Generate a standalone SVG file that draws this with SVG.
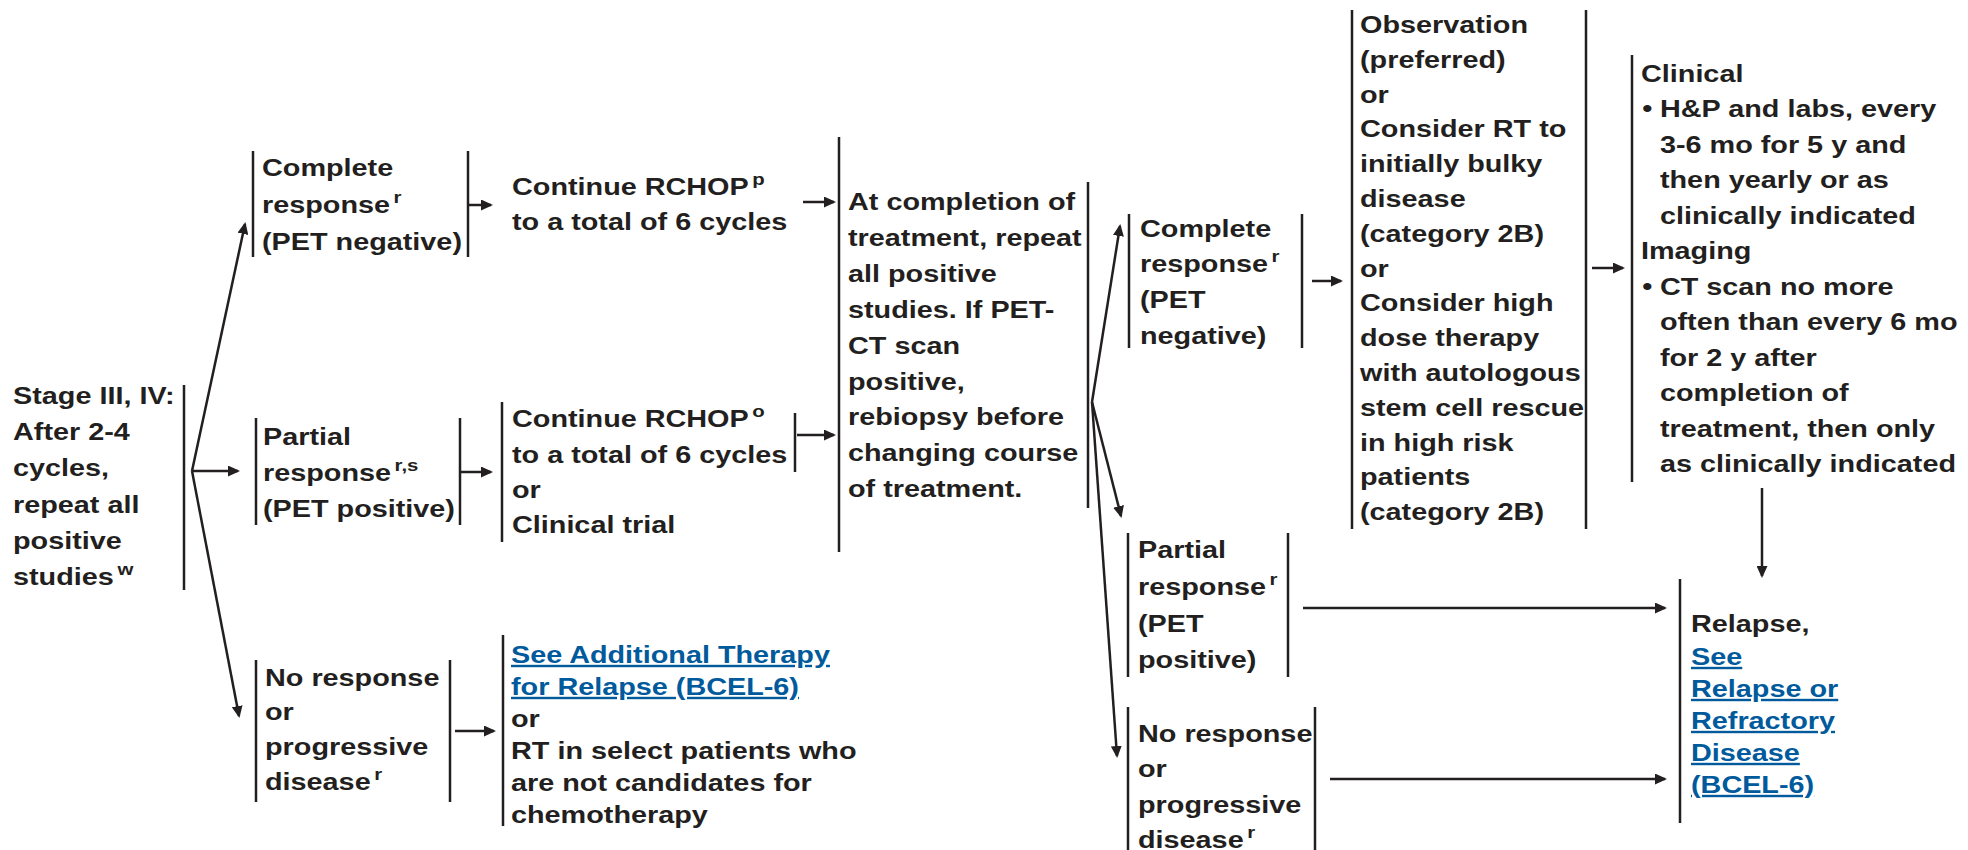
<svg xmlns="http://www.w3.org/2000/svg" width="1968" height="850" viewBox="0 0 1968 850">
  <style>
    .t { font-family: "Liberation Sans", Arial, Helvetica, sans-serif; font-weight: bold; font-size: 24px; fill: #231f20; }
    .lk { fill: #005a9c; text-decoration: underline; }
    .sup { font-size: 17px; }
    .bar { stroke: #231f20; stroke-width: 2.5; fill: none; }
    .arr { stroke: #231f20; stroke-width: 2.5; fill: none; marker-end: url(#ah); }
  </style>
  <defs>
    <marker id="ah" markerUnits="userSpaceOnUse" markerWidth="12" markerHeight="11" refX="10" refY="5.5" orient="auto">
      <path d="M0,0 L12,5.5 L0,11 z" fill="#231f20"/>
    </marker>
  </defs>
  <rect width="1968" height="850" fill="#ffffff"/>

  <!-- entry -->
  <g id="n-stage">
    <text class="t" transform="translate(13 0) scale(1.2 1)">
      <tspan x="0" y="404">Stage III, IV:</tspan>
      <tspan x="0" y="440.2">After 2-4</tspan>
      <tspan x="0" y="476.4">cycles,</tspan>
      <tspan x="0" y="512.6">repeat all</tspan>
      <tspan x="0" y="548.8">positive</tspan>
      <tspan x="0" y="585">studies<tspan class="sup" dx="3" dy="-10">w</tspan></tspan>
    </text>
    <line class="bar" x1="184" y1="385" x2="184" y2="590"/>
  </g>

  <!-- interim responses -->
  <g id="n-cr1">
    <line class="bar" x1="253" y1="151" x2="253" y2="257"/>
    <line class="bar" x1="468" y1="151" x2="468" y2="257"/>
    <text class="t" transform="translate(262 0) scale(1.2 1)">
      <tspan x="0" y="176">Complete</tspan>
      <tspan x="0" y="213">response<tspan class="sup" dx="3" dy="-10">r</tspan></tspan>
      <tspan x="0" y="250">(PET negative)</tspan>
    </text>
  </g>

  <g id="n-pr1">
    <line class="bar" x1="256" y1="418" x2="256" y2="525"/>
    <line class="bar" x1="460" y1="418" x2="460" y2="525"/>
    <text class="t" transform="translate(263 0) scale(1.2 1)">
      <tspan x="0" y="445">Partial</tspan>
      <tspan x="0" y="481">response<tspan class="sup" dx="3" dy="-10">r,s</tspan></tspan>
      <tspan x="0" y="517">(PET positive)</tspan>
    </text>
  </g>

  <g id="n-nr1">
    <line class="bar" x1="256" y1="660" x2="256" y2="802"/>
    <line class="bar" x1="450" y1="660" x2="450" y2="802"/>
    <text class="t" transform="translate(265 0) scale(1.2 1)">
      <tspan x="0" y="686">No response</tspan>
      <tspan x="0" y="720">or</tspan>
      <tspan x="0" y="755">progressive</tspan>
      <tspan x="0" y="790">disease<tspan class="sup" dx="3" dy="-10">r</tspan></tspan>
    </text>
  </g>

  <!-- continued treatment -->
  <g id="n-rchop1">
    <text class="t" transform="translate(512 0) scale(1.2 1)">
      <tspan x="0" y="195">Continue RCHOP<tspan class="sup" dx="3" dy="-10">p</tspan></tspan>
      <tspan x="0" y="230">to a total of 6 cycles</tspan>
    </text>
  </g>

  <g id="n-rchop2">
    <line class="bar" x1="502" y1="402" x2="502" y2="542"/>
    <line class="bar" x1="795" y1="413" x2="795" y2="472"/>
    <text class="t" transform="translate(512 0) scale(1.2 1)">
      <tspan x="0" y="427">Continue RCHOP<tspan class="sup" dx="3" dy="-10">o</tspan></tspan>
      <tspan x="0" y="463">to a total of 6 cycles</tspan>
      <tspan x="0" y="498">or</tspan>
      <tspan x="0" y="533">Clinical trial</tspan>
    </text>
  </g>

  <g id="n-addl">
    <line class="bar" x1="503" y1="635" x2="503" y2="826"/>
    <text class="t" transform="translate(511 0) scale(1.2 1)">
      <tspan class="lk" x="0" y="663">See Additional Therapy</tspan>
      <tspan class="lk" x="0" y="695">for Relapse (BCEL-6)</tspan>
      <tspan x="0" y="727">or</tspan>
      <tspan x="0" y="759">RT in select patients who</tspan>
      <tspan x="0" y="791">are not candidates for</tspan>
      <tspan x="0" y="823">chemotherapy</tspan>
    </text>
  </g>

  <!-- end of treatment restaging -->
  <g id="n-restage">
    <line class="bar" x1="839" y1="137" x2="839" y2="552"/>
    <line class="bar" x1="1088" y1="182" x2="1088" y2="508"/>
    <text class="t" transform="translate(848 0) scale(1.2 1)">
      <tspan x="0" y="210">At completion of</tspan>
      <tspan x="0" y="246">treatment, repeat</tspan>
      <tspan x="0" y="282">all positive</tspan>
      <tspan x="0" y="318">studies. If PET-</tspan>
      <tspan x="0" y="354">CT scan</tspan>
      <tspan x="0" y="390">positive,</tspan>
      <tspan x="0" y="425">rebiopsy before</tspan>
      <tspan x="0" y="461">changing course</tspan>
      <tspan x="0" y="497">of treatment.</tspan>
    </text>
  </g>

  <!-- final responses -->
  <g id="n-cr2">
    <line class="bar" x1="1129" y1="214" x2="1129" y2="348"/>
    <line class="bar" x1="1302" y1="214" x2="1302" y2="348"/>
    <text class="t" transform="translate(1140 0) scale(1.2 1)">
      <tspan x="0" y="237">Complete</tspan>
      <tspan x="0" y="272">response<tspan class="sup" dx="3" dy="-10">r</tspan></tspan>
      <tspan x="0" y="308">(PET</tspan>
      <tspan x="0" y="344">negative)</tspan>
    </text>
  </g>

  <g id="n-pr2">
    <line class="bar" x1="1128" y1="533" x2="1128" y2="677"/>
    <line class="bar" x1="1288" y1="533" x2="1288" y2="677"/>
    <text class="t" transform="translate(1138 0) scale(1.2 1)">
      <tspan x="0" y="558">Partial</tspan>
      <tspan x="0" y="595">response<tspan class="sup" dx="3" dy="-10">r</tspan></tspan>
      <tspan x="0" y="632">(PET</tspan>
      <tspan x="0" y="668">positive)</tspan>
    </text>
  </g>

  <g id="n-nr2">
    <line class="bar" x1="1128" y1="707" x2="1128" y2="850"/>
    <line class="bar" x1="1315" y1="707" x2="1315" y2="850"/>
    <text class="t" transform="translate(1138 0) scale(1.2 1)">
      <tspan x="0" y="742">No response</tspan>
      <tspan x="0" y="777">or</tspan>
      <tspan x="0" y="813">progressive</tspan>
      <tspan x="0" y="848">disease<tspan class="sup" dx="3" dy="-10">r</tspan></tspan>
    </text>
  </g>

  <!-- consolidation options -->
  <g id="n-obs">
    <line class="bar" x1="1352" y1="10" x2="1352" y2="529"/>
    <line class="bar" x1="1586" y1="10" x2="1586" y2="529"/>
    <text class="t" transform="translate(1360 0) scale(1.2 1)">
      <tspan x="0" y="33">Observation</tspan>
      <tspan x="0" y="67.8">(preferred)</tspan>
      <tspan x="0" y="102.6">or</tspan>
      <tspan x="0" y="137.4">Consider RT to</tspan>
      <tspan x="0" y="172.2">initially bulky</tspan>
      <tspan x="0" y="207">disease</tspan>
      <tspan x="0" y="241.8">(category 2B)</tspan>
      <tspan x="0" y="276.6">or</tspan>
      <tspan x="0" y="311.4">Consider high</tspan>
      <tspan x="0" y="346.2">dose therapy</tspan>
      <tspan x="0" y="381">with autologous</tspan>
      <tspan x="0" y="415.8">stem cell rescue</tspan>
      <tspan x="0" y="450.6">in high risk</tspan>
      <tspan x="0" y="485.4">patients</tspan>
      <tspan x="0" y="520.2">(category 2B)</tspan>
    </text>
  </g>

  <!-- follow-up -->
  <g id="n-followup">
    <line class="bar" x1="1632" y1="55" x2="1632" y2="482"/>
    <text class="t" transform="translate(1641 0) scale(1.2 1)">
      <tspan x="0" y="82">Clinical</tspan>
      <tspan x="1" y="117.5">•</tspan>
      <tspan x="15.8" y="117.5">H&amp;P and labs, every</tspan>
      <tspan x="15.8" y="153">3-6 mo for 5 y and</tspan>
      <tspan x="15.8" y="188.5">then yearly or as</tspan>
      <tspan x="15.8" y="224">clinically indicated</tspan>
      <tspan x="0" y="259.5">Imaging</tspan>
      <tspan x="1" y="295">•</tspan>
      <tspan x="15.8" y="295">CT scan no more</tspan>
      <tspan x="15.8" y="330.5">often than every 6 mo</tspan>
      <tspan x="15.8" y="366">for 2 y after</tspan>
      <tspan x="15.8" y="401.5">completion of</tspan>
      <tspan x="15.8" y="437">treatment, then only</tspan>
      <tspan x="15.8" y="472.5">as clinically indicated</tspan>
    </text>
  </g>

  <!-- relapse -->
  <g id="n-relapse">
    <line class="bar" x1="1680" y1="579" x2="1680" y2="823"/>
    <text class="t" transform="translate(1691 0) scale(1.2 1)">
      <tspan x="0" y="632">Relapse,</tspan>
      <tspan class="lk" x="0" y="665">See</tspan>
      <tspan class="lk" x="0" y="697">Relapse or</tspan>
      <tspan class="lk" x="0" y="729">Refractory</tspan>
      <tspan class="lk" x="0" y="761">Disease</tspan>
      <tspan class="lk" x="0" y="793">(BCEL-6)</tspan>
    </text>
  </g>

  <!-- connectors -->
  <g id="connectors">
    <line class="arr" x1="192" y1="471" x2="245" y2="224"/>
    <line class="arr" x1="192" y1="471" x2="238" y2="471"/>
    <line class="arr" x1="192" y1="471" x2="239" y2="716"/>
    <line class="arr" x1="469" y1="205" x2="491" y2="205"/>
    <line class="arr" x1="461" y1="472" x2="491" y2="472"/>
    <line class="arr" x1="455" y1="731" x2="494" y2="731"/>
    <line class="arr" x1="803" y1="202" x2="834" y2="202"/>
    <line class="arr" x1="797" y1="435" x2="834" y2="435"/>
    <line class="arr" x1="1092" y1="402" x2="1120" y2="226"/>
    <line class="arr" x1="1092" y1="402" x2="1121" y2="516"/>
    <line class="arr" x1="1092" y1="402" x2="1117" y2="756"/>
    <line class="arr" x1="1312" y1="281" x2="1341" y2="281"/>
    <line class="arr" x1="1592" y1="268" x2="1623" y2="268"/>
    <line class="arr" x1="1762" y1="488" x2="1762" y2="576"/>
    <line class="arr" x1="1303" y1="608" x2="1665" y2="608"/>
    <line class="arr" x1="1330" y1="779" x2="1665" y2="779"/>
  </g>
</svg>
